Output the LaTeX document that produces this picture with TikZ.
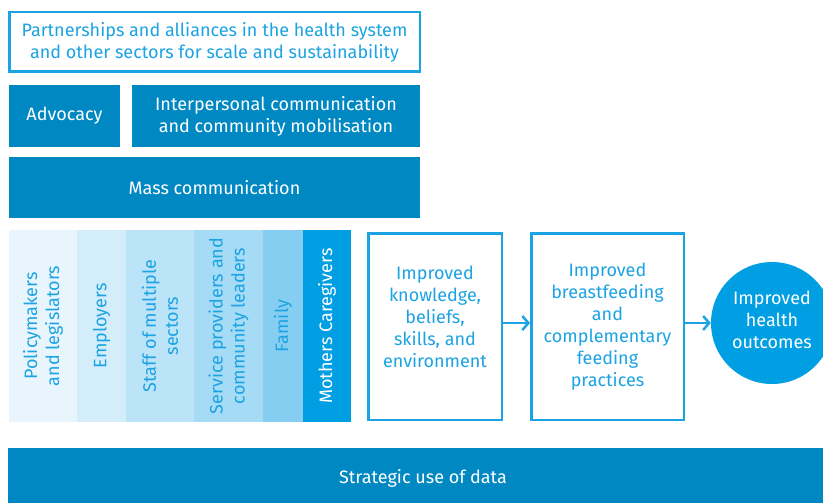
\documentclass[tikz,border=0pt]{standalone}
\usepackage{fontspec}
\setmainfont{Fira Sans}
\usetikzlibrary{arrows.meta}

\definecolor{lineblue}{HTML}{1CA3E3}
\definecolor{darkblue}{HTML}{0088C2}
\definecolor{brightblue}{HTML}{009FE3}
\definecolor{tintA}{HTML}{E8F5FC}
\definecolor{tintB}{HTML}{D3EDFA}
\definecolor{tintC}{HTML}{BCE4F8}
\definecolor{tintD}{HTML}{A5DBF5}
\definecolor{tintE}{HTML}{85CEF1}

\begin{document}
\begin{tikzpicture}[x=1pt,y=-1pt,
    every node/.style={font=\fontsize{18}{22}\selectfont, align=center, inner sep=0pt},
    band/.style={fill=darkblue, text=white},
    outline/.style={draw=lineblue, line width=2.5pt, fill=white, text=lineblue},
    group/.style={rotate=90, minimum width=192pt, text=lineblue},
    flow/.style={draw=lineblue, line width=2.5pt, -{Straight Barb[length=6pt, width=14pt, line width=2.5pt]}}]
    \useasboundingbox (0,0) rectangle (823,503);
    \clip (0,0) rectangle (823,503);

    % Top layers
    \node[outline, minimum width=410.5pt, minimum height=59.5pt] (partners) at (214.5,42)
        {Partnerships and alliances in the health system\\and other sectors for scale and sustainability};
    \node[band, minimum width=111pt, minimum height=62pt] (advocacy) at (64.5,116) {Advocacy};
    \node[band, minimum width=288pt, minimum height=62pt] (ipc) at (276,116)
        {Interpersonal communication\\and community mobilisation};
    \node[band, minimum width=411pt, minimum height=61pt] (mass) at (214.5,187.5) {Mass communication};

    % Audience columns
    \node[group, fill=tintA, minimum height=68pt] (policy) at (43,326) {Policymakers\\and legislators};
    \node[group, fill=tintB, minimum height=49pt] (employers) at (101.5,326) {Employers};
    \node[group, fill=tintC, minimum height=68pt] (staff) at (160,326) {Staff of multiple\\sectors};
    \node[group, fill=tintD, minimum height=69pt] (providers) at (228.5,326) {Service providers and\\community leaders};
    \node[group, fill=tintE, minimum height=40pt] (family) at (283,326) {Family};
    \node[group, fill=brightblue, text=white, minimum height=48pt] (mothers) at (327,326) {Mothers Caregivers};

    % Results
    \node[outline, minimum width=133.5pt, minimum height=186.5pt] (knowledge) at (435,326.5)
        {Improved\\knowledge,\\beliefs,\\skills, and\\environment\\[-2pt]~};
    \node[outline, minimum width=152.5pt, minimum height=186.5pt] (practices) at (607.5,326.5)
        {Improved\\breastfeeding\\and\\complementary\\feeding\\practices};
    \node[circle, fill=brightblue, text=white, minimum size=122pt] (outcomes) at (772,323)
        {Improved\\health\\outcomes\\[-16pt]~};

    % Arrows
    \draw[flow] (knowledge.east |- 0,323) -- (practices.west |- 0,323);
    \draw[flow] (practices.east |- 0,323) -- (outcomes.west);

    % Data bar
    \node[band, minimum width=830pt, minimum height=60pt] (data) at (423,478) {Strategic use of data};
\end{tikzpicture}
\end{document}
